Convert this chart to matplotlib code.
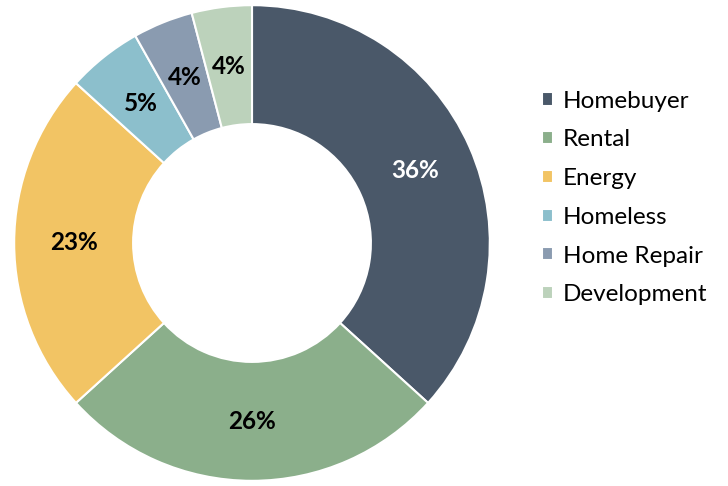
import numpy as np
import matplotlib.pyplot as plt

# program share by category (percent)
categories = ["Homebuyer", "Rental", "Energy", "Homeless", "Home Repair", "Development"]
shares = [36, 26, 23, 5, 4, 4]
colors = ["#4a5869", "#8baf8b", "#f2c464", "#8cbfcc", "#8a9bb0", "#bcd2bb"]
label_colors = ["white", "black", "black", "black", "black", "black"]

plt.rcParams["font.family"] = ["Lato", "DejaVu Sans"]

fig = plt.figure(figsize=(7.28, 4.86), dpi=100)
ax = fig.add_axes([13 / 728, 4 / 486, 478 / 728, 478 / 486])

wedges, _ = ax.pie(shares, colors=colors, startangle=90, counterclock=False,
                   radius=1.0,
                   wedgeprops=dict(width=0.5, edgecolor="white", linewidth=1.5))
ax.set_xlim(-1.005, 1.005)
ax.set_ylim(-1.005, 1.005)
ax.set_aspect("equal")

# percent labels at the middle of the ring
for w, v, c in zip(wedges, shares, label_colors):
    ang = np.deg2rad((w.theta1 + w.theta2) / 2)
    r = 0.75
    ax.text(r * np.cos(ang), r * np.sin(ang), f"{v}%", ha="center", va="center",
            fontsize=17.5, fontweight="bold", color=c)

leg = fig.legend(wedges, categories, loc="center left",
                 bbox_to_anchor=(520 / 728, 1 - 198 / 486),
                 frameon=False, fontsize=17.5, handlelength=0.45, handleheight=0.45,
                 handletextpad=0.4, labelspacing=0.73)

fig.savefig("out.png", dpi=100)
